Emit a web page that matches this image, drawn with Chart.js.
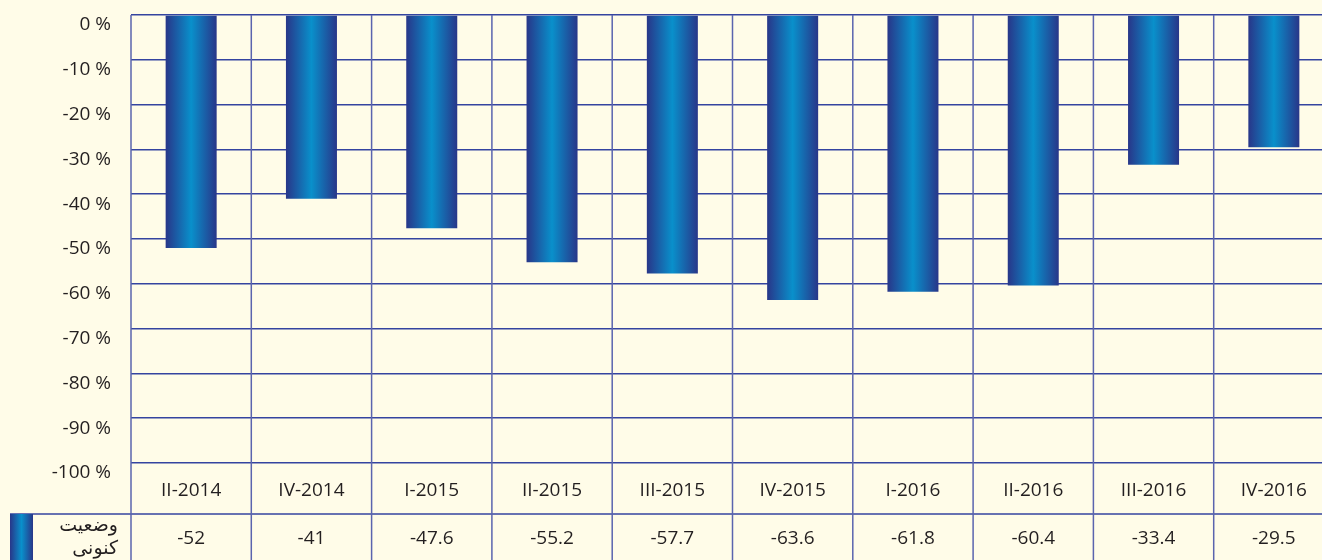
<!DOCTYPE html>
<html>
<head>
<meta charset="utf-8">
<script src="https://cdn.jsdelivr.net/npm/chart.js@4"></script>
<style>
  html, body { margin: 0; padding: 0; background: #fffce8; overflow: hidden; }
  #wrap { width: 1322px; height: 560px; overflow: hidden; }
</style>
</head>
<body>
<div id="wrap"><canvas id="chart" width="1340" height="560"></canvas></div>
<script>
const quarters = ['II-2014', 'IV-2014', 'I-2015', 'II-2015', 'III-2015', 'IV-2015', 'I-2016', 'II-2016', 'III-2016', 'IV-2016'];
const currentStatus = [-52, -41, -47.6, -55.2, -57.7, -63.6, -61.8, -60.4, -33.4, -29.5];
const seriesName = ['وضعیت', 'کنونی'];

const hBlue = '#3444a0';
const vBlue = '#5a64ae';
const textColor = '#231f20';
const barPct = 0.424;

function barGradient(c, left, right) {
    const g = c.createLinearGradient(left, 0, right, 0);
    g.addColorStop(0, '#283689');
    g.addColorStop(0.5, '#0990cb');
    g.addColorStop(1, '#283689');
    return g;
}

// vertical cell lines, category row and data-table row under the plot
const tablePlugin = {
    id: 'table',
    afterDraw(chart) {
        const c = chart.ctx;
        const x = chart.scales.x;
        const area = chart.chartArea;
        const n = quarters.length;
        const catW = (area.right - area.left) / n;
        const rowTop = 514;
        const bottom = chart.height;

        c.save();
        c.lineWidth = 1.5;
        c.strokeStyle = hBlue;
        c.beginPath();
        c.moveTo(10, rowTop);
        c.lineTo(chart.width, rowTop);
        c.stroke();

        c.strokeStyle = vBlue;
        for (let i = 0; i <= n; i++) {
            const lx = area.left + i * catW;
            c.beginPath();
            c.moveTo(lx, area.top);
            c.lineTo(lx, bottom);
            c.stroke();
        }

        c.fillStyle = textColor;
        c.font = '19px "Open Sans"';
        c.textAlign = 'center';
        c.textBaseline = 'middle';
        currentStatus.forEach((v, i) => {
            c.fillText(String(v), x.getPixelForValue(i), 539);
        });

        // legend swatch + series name
        c.fillStyle = barGradient(c, 10, 33);
        c.fillRect(10, rowTop, 23, bottom - rowTop);
        c.fillStyle = textColor;
        c.font = '19px "DejaVu Sans"';
        c.textAlign = 'right';
        c.fillText(seriesName[0], 118, 526);
        c.fillText(seriesName[1], 118, 549);
        c.restore();
    }
};

new Chart(document.getElementById('chart'), {
    type: 'bar',
    data: {
        labels: quarters,
        datasets: [{
            label: seriesName.join(' '),
            data: currentStatus,
            barPercentage: barPct,
            categoryPercentage: 1,
            backgroundColor: (ctx) => {
                const chart = ctx.chart;
                const xs = chart.scales.x;
                if (!xs || !chart.chartArea || ctx.dataIndex === undefined) return '#0a6fb0';
                const cx = xs.getPixelForValue(ctx.dataIndex);
                const w = (xs.width / quarters.length) * barPct;
                return barGradient(chart.ctx, cx - w / 2, cx + w / 2);
            },
            borderWidth: 0
        }]
    },
    options: {
        responsive: false,
        animation: false,
        layout: { padding: { top: 15, right: 6, left: 0, bottom: 0 } },
        plugins: {
            legend: { display: false },
            tooltip: { enabled: false }
        },
        scales: {
            x: {
                grid: { display: false, drawTicks: false },
                border: { display: false },
                ticks: {
                    color: textColor,
                    font: { family: 'Open Sans', size: 19 },
                    padding: 16,
                    maxRotation: 0
                },
                afterFit(scale) {
                    scale.height = 97;
                    scale.paddingLeft = 0;
                    scale.paddingRight = 0;
                }
            },
            y: {
                min: -100,
                max: 0,
                grid: { color: hBlue, lineWidth: 1.5, drawTicks: false },
                border: { display: false },
                ticks: {
                    stepSize: 10,
                    color: textColor,
                    font: { family: 'Open Sans', size: 19 },
                    padding: 20,
                    labelOffset: 10,
                    callback: (v) => v + ' %'
                },
                afterFit(scale) {
                    scale.width = 131;
                    scale.paddingTop = 0;
                    scale.paddingBottom = 0;
                }
            }
        }
    },
    plugins: [tablePlugin]
});
</script>
</body>
</html>
